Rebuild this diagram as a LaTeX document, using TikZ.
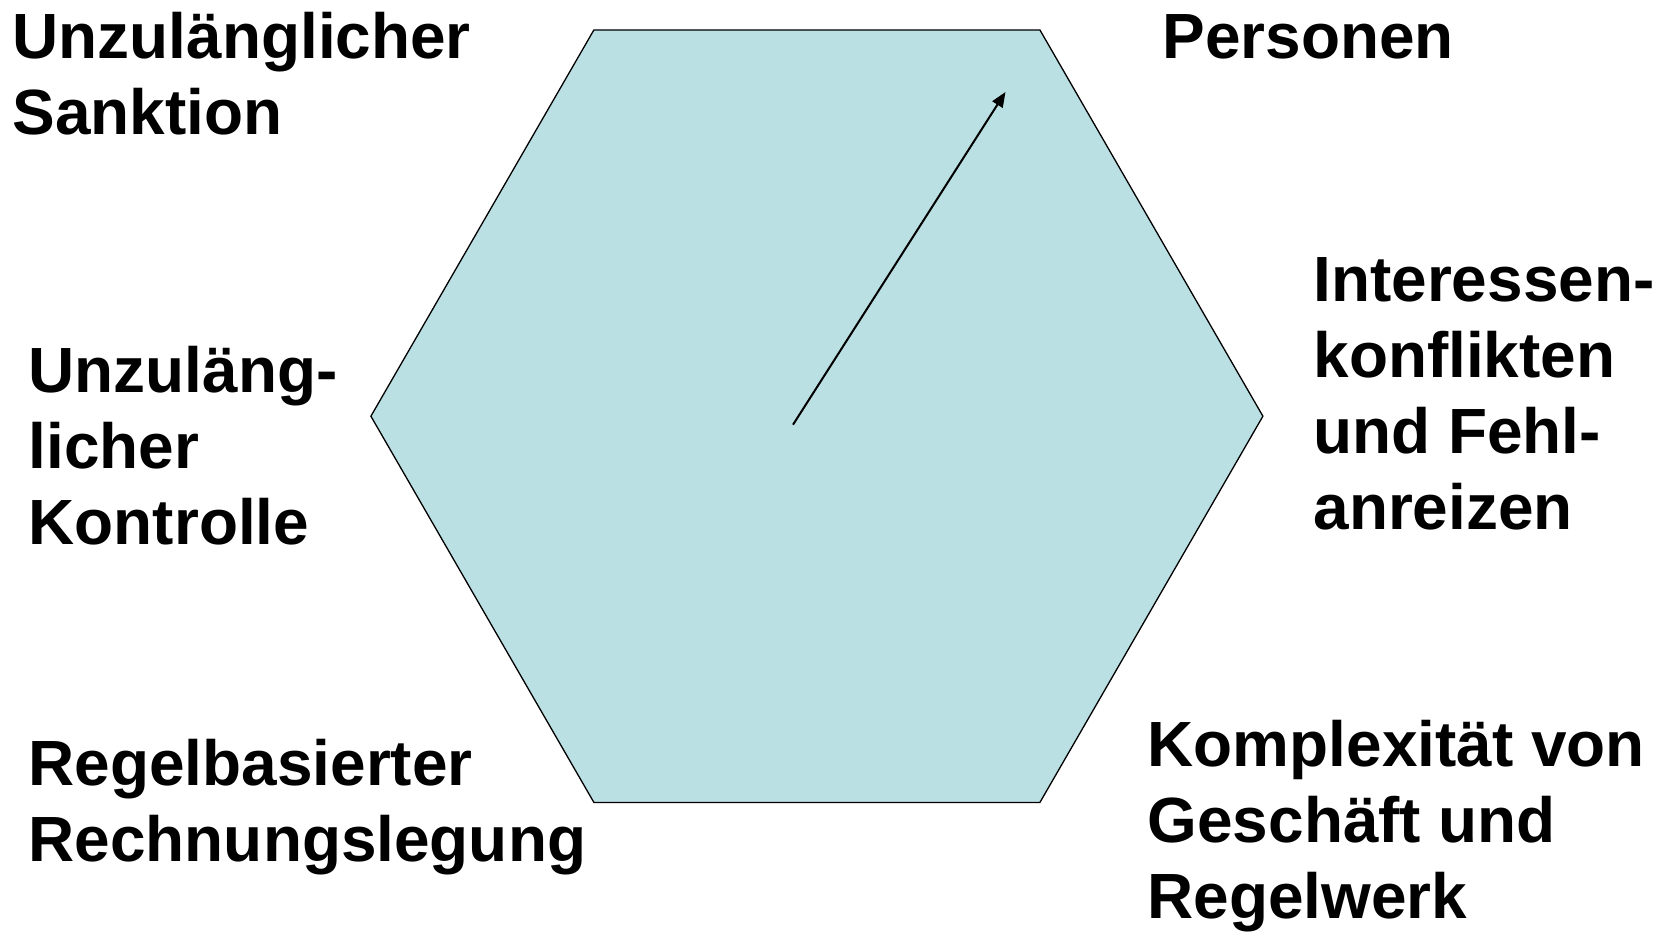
\documentclass[tikz,border=0pt]{standalone}
\usepackage{fontspec}
\setmainfont{Liberation Sans}
\usepackage{tikz}
\usetikzlibrary{arrows.meta, positioning, calc}

\definecolor{hexfill}{RGB}{187,224,227}

\begin{document}
\begin{tikzpicture}[x=1pt, y=1pt, >={Triangle[length=15pt, width=12pt]},
    label/.style={anchor=base west, inner sep=0pt, align=left,
        font=\fontsize{63.9}{76}\selectfont\bfseries}]
    % Page frame
    \useasboundingbox (0,0) rectangle (1671,932);

    % Hexagon
    \coordinate (M) at (816.9, 515.8);
    \def\hexR{446}
    \draw[line width=1.3pt, fill=hexfill]
        ($(M)+(0:\hexR)$) -- ($(M)+(60:\hexR)$) -- ($(M)+(120:\hexR)$)
        -- ($(M)+(180:\hexR)$) -- ($(M)+(240:\hexR)$) -- ($(M)+(300:\hexR)$) -- cycle;

    % Arrow towards the top right corner
    \coordinate (start) at (793, 507.3);
    \coordinate (tip) at (1005.5, 840);
    \draw[->, line width=2pt] (start) -- (tip);

    % Labels round the hexagon (placed at the baseline of their last line)
    \node[label] (sanktion) at (12.6, 797.4) {Unzulänglicher\\Sanktion};
    \node[label] (personen) at (1162.3, 873.4) {Personen};
    \node[label] (interessen) at (1313.3, 402.6) {Interessen-\\konflikten\\und Fehl-\\anreizen};
    \node[label] (kontrolle) at (28.5, 387.6) {Unzuläng-\\licher\\Kontrolle};
    \node[label] (regeln) at (28.5, 70.6) {Regelbasierter\\Rechnungslegung};
    \node[label] (komplex) at (1147.5, 13.6) {Komplexität von\\Geschäft und\\Regelwerk};
\end{tikzpicture}
\end{document}
